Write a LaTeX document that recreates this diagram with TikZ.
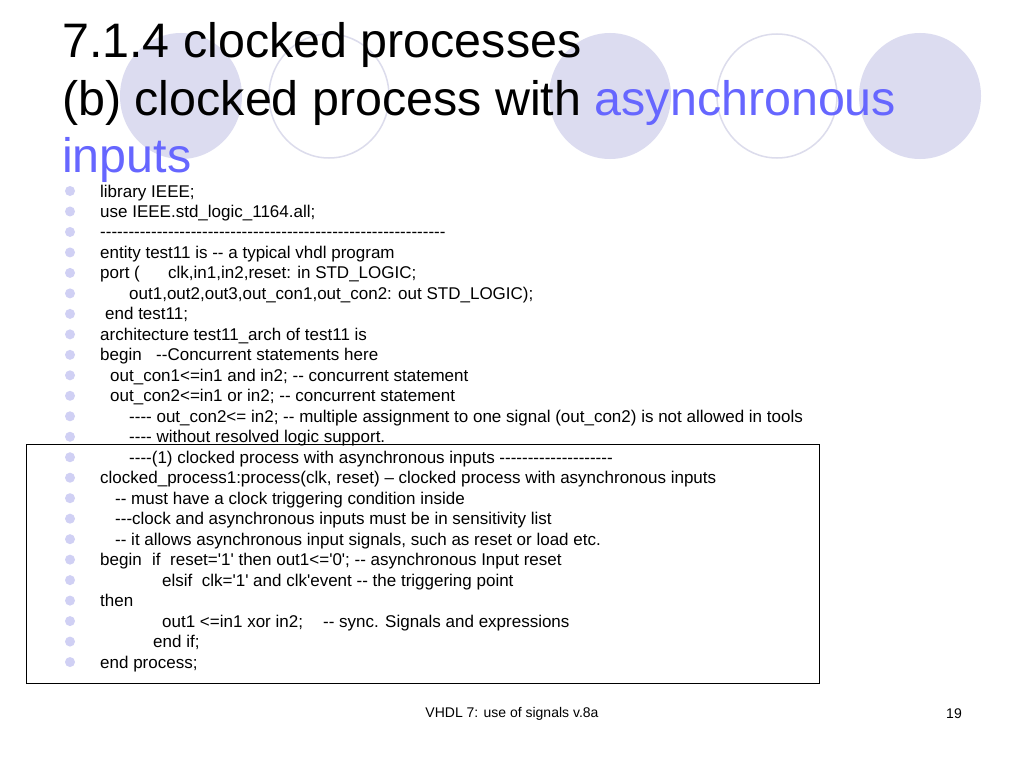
\documentclass[tikz,border=0pt]{standalone}
\usepackage{fontspec}
\newfontfamily\arial{Liberation Sans}
\definecolor{lav}{HTML}{DCDCF0}
\definecolor{lavline}{HTML}{DCDCEC}
\definecolor{bul}{HTML}{D0D0F4}
\definecolor{tblue}{HTML}{6666FF}
\begin{document}
\begin{tikzpicture}[x=1pt,y=-1pt,
  code/.style={anchor=base west,inner sep=0pt,font=\arial\fontsize{17}{18}\selectfont},
  ttl/.style={anchor=base west,inner sep=0pt,font=\arial\fontsize{48.4}{56}\selectfont},
  bullet/.style={circle,fill=bul,draw=none,minimum size=10pt,inner sep=0pt}]
\useasboundingbox (0,0) rectangle (1024,768);
\fill[white] (0,0) rectangle (1024,768);
% decorative ellipses
\fill[lav] (181,96) ellipse [x radius=61,y radius=63];
\draw[lavline,line width=1.5pt] (329,96) ellipse [x radius=60,y radius=62];
\fill[lav] (610,96) ellipse [x radius=61,y radius=63];
\draw[lavline,line width=1.5pt] (777,96) ellipse [x radius=60,y radius=62];
\fill[lav] (920,96) ellipse [x radius=61,y radius=63];
% title
\node[ttl] (t1) at (62,58) {7.1.4 clocked processes};
\node[ttl] (t2) at (62,115) {(b) clocked process with \textcolor{tblue}{asynchronous}};
\node[ttl,text=tblue] (t3) at (62,172) {inputs};
% box
\draw[line width=0.8pt] (26,444) rectangle (819,683);
% bullets
\foreach \i in {0,...,23}{\node[bullet] (b\i) at (70,{191+20.48*\i}) {};}
\def\L#1{{197+20.48*#1}}
\node[code] (c0) at (100,\L0) {library IEEE;};
\node[code] (c1) at (100,\L1) {use IEEE.std\_logic\_1164.all;};
\node[code] (c2) at (100,\L2) {-------------------------------------------------------------};
\node[code] (c3) at (100,\L3) {entity test11 is -- a typical vhdl program};
\node[code] (c4) at (100,\L4) {port (};
\node[code] (c4b) at (168,\L4) {clk,in1,in2,reset: in STD\_LOGIC;};
\node[code] (c5) at (129,\L5) {out1,out2,out3,out\_con1,out\_con2: out STD\_LOGIC);};
\node[code] (c6) at (105,\L6) {end test11;};
\node[code] (c7) at (100,\L7) {architecture test11\_arch of test11 is};
\node[code] (c8) at (100,\L8) {begin};
\node[code] (c8b) at (156,\L8) {--Concurrent statements here};
\node[code] (c9) at (110,\L9) {out\_con1<=in1 and in2; -- concurrent statement};
\node[code] (c10) at (110,\L{10}) {out\_con2<=in1 or in2; -- concurrent statement};
\node[code] (c11) at (129,\L{11}) {---- out\_con2<= in2; -- multiple assignment to one signal (out\_con2) is not allowed in tools};
\node[code] (c12) at (129,\L{12}) {---- without resolved logic support.};
\node[code] (c13) at (129,\L{13}) {----(1) clocked process with asynchronous inputs --------------------};
\node[code] (c14) at (100,\L{14}) {clocked\_process1:process(clk, reset) – clocked process with asynchronous inputs};
\node[code] (c15) at (115,\L{15}) {-- must have a clock triggering condition inside};
\node[code] (c16) at (115,\L{16}) {---clock and asynchronous inputs must be in sensitivity list};
\node[code] (c17) at (115,\L{17}) {-- it allows asynchronous input signals, such as reset or load etc.};
\node[code] (c18) at (100,\L{18}) {begin};
\node[code] (c18b) at (152,\L{18}) {if~ reset='1' then out1<='0'; -- asynchronous Input reset};
\node[code] (c19) at (162,\L{19}) {elsif~ clk='1' and clk'event -- the triggering point};
\node[code] (c20) at (100,\L{20}) {then};
\node[code] (c21) at (162,\L{21}) {out1 <=in1 xor in2;};
\node[code] (c21b) at (323,\L{21}) {-- sync. Signals and expressions};
\node[code] (c22) at (153,\L{22}) {end if;};
\node[code] (c23) at (100,\L{23}) {end process;};
% footer
\node[font=\arial\fontsize{14}{16}\selectfont,inner sep=0pt] (f1) at (512,714) {VHDL 7: use of signals v.8a};
\node[font=\arial\fontsize{14}{16}\selectfont,inner sep=0pt] (f2) at (954,714) {19};
\end{tikzpicture}
\end{document}
